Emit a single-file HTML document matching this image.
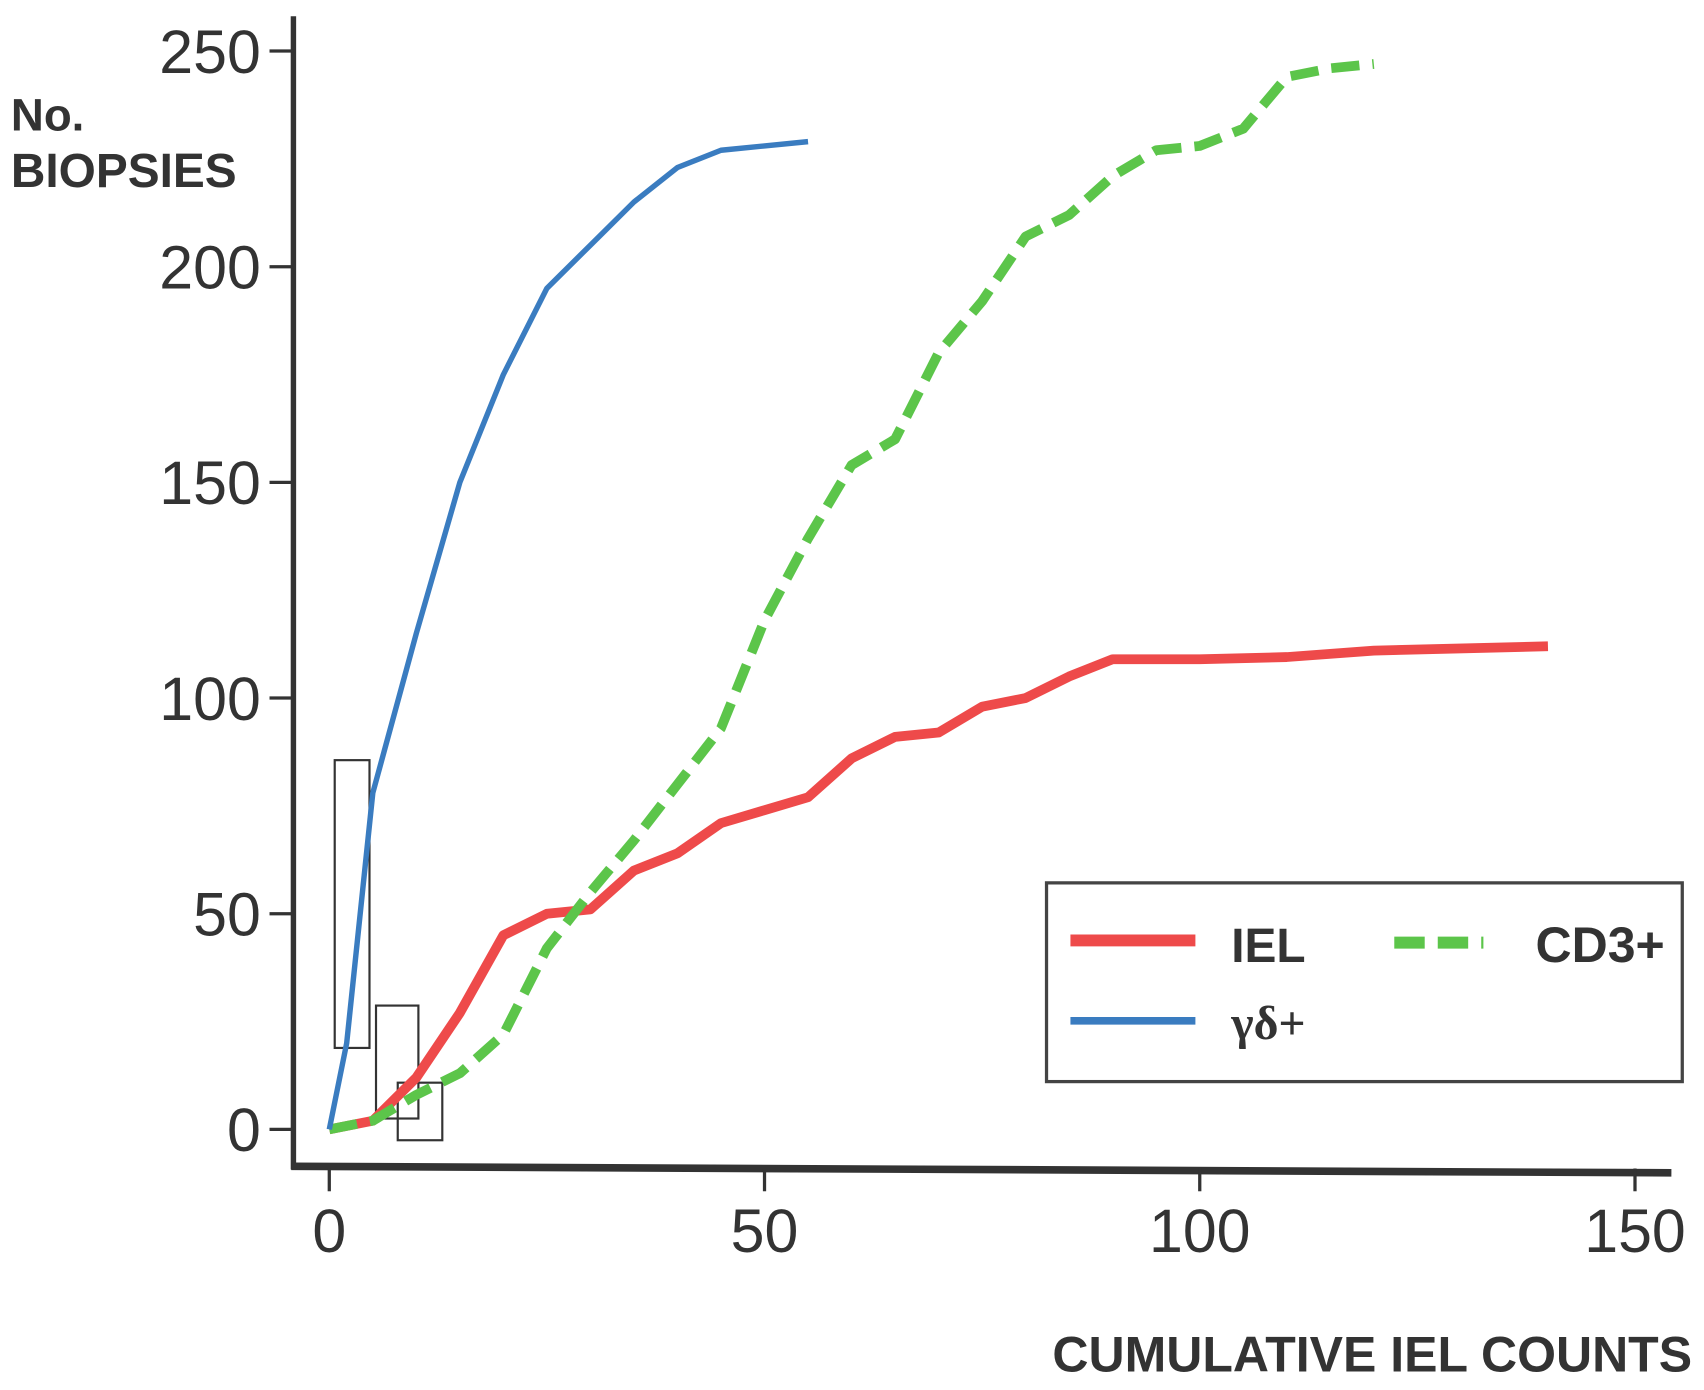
<!DOCTYPE html>
<html><head><meta charset="utf-8"><style>
html,body{margin:0;padding:0;background:#fff;}
svg{display:block;}
text{font-family:"Liberation Sans",sans-serif;fill:#333;}
</style></head><body>
<svg id="chart" width="1704" height="1390" viewBox="0 0 1568 1280" preserveAspectRatio="none" xmlns="http://www.w3.org/2000/svg">
<rect width="1568" height="1280" fill="#fff"/>
<g id="marks"></g>
<line x1="270" y1="15" x2="270" y2="1077" stroke="#333" stroke-width="5"/>
<line x1="268" y1="1074" x2="1538" y2="1080" stroke="#333" stroke-width="7"/>
<g id="ticks"></g>
<text x="10" y="120" font-size="42" font-weight="bold">No.</text>
<text x="10" y="172" font-size="44" font-weight="bold">BIOPSIES</text>
<text x="1557" y="1263" font-size="46" font-weight="bold" text-anchor="end">CUMULATIVE IEL COUNTS</text>
<g>
<rect x="963" y="813" width="585" height="183" fill="#fff" stroke="#444" stroke-width="3"/>
<line x1="985" y1="866" x2="1100" y2="866" stroke="#ee4a4a" stroke-width="11"/>
<text x="1133" y="886" font-size="44" font-weight="bold">IEL</text>
<line x1="1283" y1="868" x2="1365" y2="868" stroke="#5cc54a" stroke-width="11" stroke-dasharray="28,12"/>
<text x="1413" y="886" font-size="46" font-weight="bold">CD3+</text>
<line x1="985" y1="940" x2="1100" y2="940" stroke="#3a7cc0" stroke-width="7"/>
<text x="1133" y="957" font-size="44" font-weight="bold" style="font-family:'Liberation Serif',serif">γδ+</text>
</g>
</svg>
<script>
const xTicks=[0,50,100,150];
const yTicks=[0,50,100,150,200,250];
const gdX=[0,2,5,10,15,20,25,30,35,40,45,50,55];
const gdY=[0,20,78,115,150,175,195,205,215,223,227,228,229];
const ielX=[0,5,10,15,20,25,30,35,40,45,50,55,60,65,70,75,80,85,90,100,110,120,140];
const ielY=[0,2,12,27,45,50,51,60,64,71,74,77,86,91,92,98,100,105,109,109,109.5,111,112];
const cdX=[0,5,10,15,20,25,30,35,40,45,50,55,60,65,70,75,80,85,90,95,100,105,110,115,120];
const cdY=[0,2,8,13,22,42,55,67,80,93,118,137,154,160,180,192,207,212,221,227,228,232,244,246,247];
const NS='http://www.w3.org/2000/svg';
function sx(v){return 303+v*8.01;}
function sy(v){return 1040-v*3.972;}
const marks=document.getElementById('marks');
const ticks=document.getElementById('ticks');
[[308,700,32,265],[346,926,39,104],[366,997,41,53]].forEach(r=>{
  const e=document.createElementNS(NS,'rect');
  
  
  e.setAttribute('x',r[0]);e.setAttribute('y',r[1]);e.setAttribute('width',r[2]);e.setAttribute('height',r[3]);
  e.setAttribute('fill','none');e.setAttribute('stroke','#333');e.setAttribute('stroke-width','2');
  marks.appendChild(e);
});
function line(xs,ys,color,w,dash,name){
  const p=document.createElementNS(NS,'polyline');
  
  
  p.setAttribute('points',xs.map((x,i)=>sx(x)+','+sy(ys[i])).join(' '));
  p.setAttribute('fill','none');p.setAttribute('stroke',color);p.setAttribute('stroke-width',w);
  p.setAttribute('stroke-linejoin','round');
  if(dash)p.setAttribute('stroke-dasharray',dash);
  marks.appendChild(p);
}
line(ielX,ielY,'#ee4a4a',9,null,'iel-line');
line(cdX,cdY,'#5cc54a',9,'26,12','cd3-line');
line(gdX,gdY,'#3a7cc0',5,null,'gd-line');
xTicks.forEach(v=>{
  const l=document.createElementNS(NS,'line');
  
  
  l.setAttribute('x1',sx(v));l.setAttribute('x2',sx(v));l.setAttribute('y1',1076);l.setAttribute('y2',1097);
  l.setAttribute('stroke','#333');l.setAttribute('stroke-width','3');ticks.appendChild(l);
  const t=document.createElementNS(NS,'text');
  
  
  t.setAttribute('x',sx(v));t.setAttribute('y',1153);t.setAttribute('font-size','56');t.setAttribute('text-anchor','middle');
  t.textContent=v;ticks.appendChild(t);
});
yTicks.forEach(v=>{
  const l=document.createElementNS(NS,'line');
  
  
  l.setAttribute('x1',248);l.setAttribute('x2',270);l.setAttribute('y1',sy(v));l.setAttribute('y2',sy(v));
  l.setAttribute('stroke','#333');l.setAttribute('stroke-width','3');ticks.appendChild(l);
  const t=document.createElementNS(NS,'text');
  
  
  t.setAttribute('x',240);t.setAttribute('y',sy(v)+20);t.setAttribute('font-size','56');t.setAttribute('text-anchor','end');
  t.textContent=v;ticks.appendChild(t);
});
</script>
</body></html>
